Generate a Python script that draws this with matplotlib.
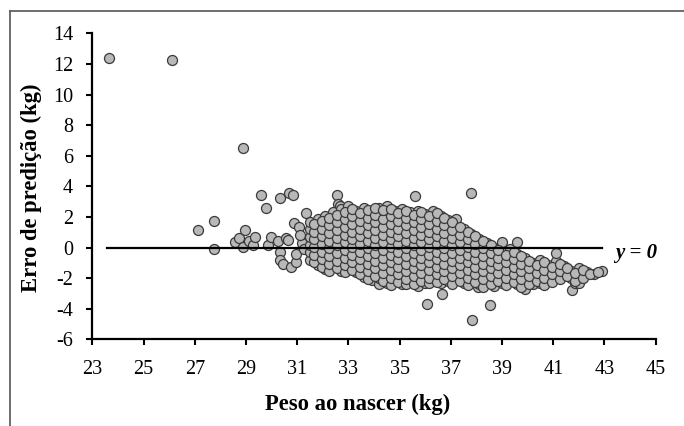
import matplotlib
matplotlib.use("Agg")
import matplotlib.pyplot as plt
from matplotlib.lines import Line2D

# ---- data ----
outlier_x = [23.66, 26.12, 28.88, 35.60, 37.79, 36.05, 36.64, 37.81, 38.53, 38.07, 39.90, 41.75, 41.85]
outlier_y = [12.37, 12.29, 6.54, 3.40, 3.57, -3.68, -3.00, -4.72, -3.73, -2.57, -2.70, -2.79, -2.31]

sparse_x = [27.13, 27.76, 27.76, 28.55, 28.71, 28.88, 28.94, 29.10, 29.28, 29.35, 29.57, 29.79,
            29.87, 29.97, 30.23, 30.31, 30.34, 30.32, 30.43, 30.56, 30.65, 30.66, 30.75, 30.82,
            30.88, 30.94, 31.05, 31.33, 32.54, 32.60, 32.67, 31.89, 30.96, 31.20, 31.10, 31.25]
sparse_y = [1.13, 1.72, -0.07, 0.35, 0.65, 0.02, 1.13, 0.46, 0.20, 0.72, 3.44, 2.61,
            0.17, 0.72, 0.46, 3.27, -0.30, -0.83, -1.07, 0.63, 0.52, 3.57, -1.29, 3.42,
            1.61, -0.92, 1.33, 2.27, 3.46, 2.88, 2.70, 1.78, -0.40, 0.30, 0.85, -0.10]

# dense cloud, read column by column (x position, y values of the circles in that column)
cloud_cols = [31.5, 31.8, 32.1, 32.4, 32.7, 33.0, 33.3, 33.6, 33.9, 34.2, 34.5, 34.8,
              35.1, 35.4, 35.7, 36.0, 36.3, 36.6, 36.9, 37.2, 37.5, 37.8, 38.1, 38.4,
              38.7, 39.0, 39.3, 39.6, 39.9, 40.2, 40.5, 40.8, 41.1, 41.4, 41.7, 42.0,
              42.3, 42.6, 42.9]
cloud_rows = [
    [-0.8, -0.3, 0.2, 0.7, 1.2, 1.7],
    [-1.1, -0.6, -0.1, 0.4, 0.9, 1.4, 1.9],
    [-1.4, -0.9, -0.4, 0.1, 0.6, 1.1, 1.6, 2.1],
    [-1.2, -0.7, -0.2, 0.3, 0.8, 1.3, 1.8, 2.3],
    [-1.5, -1.0, -0.5, 0.0, 0.5, 1.0, 1.5, 2.0, 2.5],
    [-1.3, -0.8, -0.3, 0.2, 0.7, 1.2, 1.7, 2.2, 2.7],
    [-1.6, -1.1, -0.6, -0.1, 0.4, 0.9, 1.4, 1.9, 2.4],
    [-1.9, -1.4, -0.9, -0.4, 0.1, 0.6, 1.1, 1.6, 2.1, 2.6],
    [-2.1, -1.7, -1.2, -0.7, -0.2, 0.3, 0.8, 1.3, 1.8, 2.3],
    [-2.4, -2.0, -1.5, -1.0, -0.5, 0.0, 0.5, 1.0, 1.5, 2.0, 2.6],
    [-2.3, -1.8, -1.3, -0.8, -0.3, 0.2, 0.7, 1.2, 1.7, 2.2, 2.7],
    [-2.1, -1.6, -1.1, -0.6, -0.1, 0.4, 0.9, 1.4, 1.9, 2.4],
    [-2.4, -1.9, -1.4, -0.9, -0.4, 0.1, 0.6, 1.1, 1.6, 2.1, 2.5],
    [-2.2, -1.7, -1.2, -0.7, -0.2, 0.3, 0.8, 1.3, 1.8, 2.3],
    [-2.5, -2.0, -1.5, -1.0, -0.5, 0.0, 0.5, 1.0, 1.5, 2.0, 2.4],
    [-2.3, -1.8, -1.3, -0.8, -0.3, 0.2, 0.7, 1.2, 1.7, 2.2],
    [-2.1, -1.6, -1.1, -0.6, -0.1, 0.4, 0.9, 1.4, 1.9, 2.4],
    [-2.3, -1.9, -1.4, -0.9, -0.4, 0.1, 0.6, 1.1, 1.6, 2.1],
    [-2.2, -1.7, -1.2, -0.7, -0.2, 0.3, 0.8, 1.3, 1.8],
    [-2.0, -1.5, -1.0, -0.5, 0.0, 0.5, 1.0, 1.5, 1.85],
    [-2.3, -1.8, -1.3, -0.8, -0.3, 0.2, 0.7, 1.2],
    [-2.1, -1.6, -1.1, -0.6, -0.1, 0.4, 0.9],
    [-2.4, -1.9, -1.4, -0.9, -0.4, 0.1, 0.6],
    [-2.2, -1.7, -1.2, -0.7, -0.2, 0.3],
    [-2.5, -2.0, -1.5, -1.0, -0.5, 0.0],
    [-2.3, -1.8, -1.3, -0.8, -0.3, 0.4],
    [-2.1, -1.6, -1.1, -0.6, -0.1],
    [-2.4, -1.9, -1.4, -0.9, -0.4, 0.4],
    [-2.2, -1.7, -1.2, -0.7],
    [-2.4, -2.0, -1.5, -1.0],
    [-2.3, -1.8, -1.3, -0.8],
    [-2.1, -1.6, -1.1],
    [-1.9, -1.4, -0.9, -0.35],
    [-1.7, -1.2],
    [-2.0, -1.5],
    [-2.3, -1.8, -1.3],
    [-1.6],
    [-1.7],
    [-1.5],
]

# circles lying between the columns above (same diagonal stripes)
mid_cols = [31.65, 31.95, 32.25, 32.55, 32.85, 33.15, 33.45, 33.75, 34.05, 34.35, 34.65, 34.95,
            35.25, 35.55, 35.85, 36.15, 36.45, 36.75, 37.05, 37.35, 37.65, 37.95, 38.25, 38.55,
            38.85, 39.15, 39.45, 39.75, 40.05, 40.35, 40.65, 40.95, 41.25, 41.55, 41.85, 42.15,
            42.45, 42.75]
mid_rows = [
    [-0.95, -0.45, 0.05, 0.55, 1.05, 1.55],
    [-1.25, -0.75, -0.25, 0.25, 0.75, 1.25, 1.75],
    [-1.55, -1.05, -0.55, -0.05, 0.45, 0.95, 1.45, 1.95],
    [-1.35, -0.85, -0.35, 0.15, 0.65, 1.15, 1.65, 2.15],
    [-1.6, -1.15, -0.65, -0.15, 0.35, 0.85, 1.35, 1.85, 2.35],
    [-1.45, -0.95, -0.45, 0.05, 0.55, 1.05, 1.55, 2.05, 2.55],
    [-1.75, -1.25, -0.75, -0.25, 0.25, 0.75, 1.25, 1.75, 2.25],
    [-2.05, -1.55, -1.05, -0.55, -0.05, 0.45, 0.95, 1.45, 1.95, 2.45],
    [-1.85, -1.35, -0.85, -0.35, 0.15, 0.65, 1.15, 1.65, 2.15, 2.6],
    [-2.15, -1.65, -1.15, -0.65, -0.15, 0.35, 0.85, 1.35, 1.85, 2.45],
    [-2.45, -1.95, -1.45, -0.95, -0.45, 0.05, 0.55, 1.05, 1.55, 2.05, 2.55],
    [-2.25, -1.75, -1.25, -0.75, -0.25, 0.25, 0.75, 1.25, 1.75, 2.25],
    [-2.4, -2.05, -1.55, -1.05, -0.55, -0.05, 0.45, 0.95, 1.45, 1.95, 2.4],
    [-2.35, -1.85, -1.35, -0.85, -0.35, 0.15, 0.65, 1.15, 1.65, 2.15],
    [-2.15, -1.65, -1.15, -0.65, -0.15, 0.35, 0.85, 1.35, 1.85, 2.3],
    [-2.3, -1.95, -1.45, -0.95, -0.45, 0.05, 0.55, 1.05, 1.55, 2.05],
    [-2.25, -1.75, -1.25, -0.75, -0.25, 0.25, 0.75, 1.25, 1.75, 2.25],
    [-2.05, -1.55, -1.05, -0.55, -0.05, 0.45, 0.95, 1.45, 1.95],
    [-2.35, -1.85, -1.35, -0.85, -0.35, 0.15, 0.65, 1.15, 1.65],
    [-2.15, -1.65, -1.15, -0.65, -0.15, 0.35, 0.85, 1.35],
    [-2.45, -1.95, -1.45, -0.95, -0.45, 0.05, 0.55, 1.05],
    [-2.25, -1.75, -1.25, -0.75, -0.25, 0.25, 0.75],
    [-2.55, -2.05, -1.55, -1.05, -0.55, -0.05, 0.45],
    [-2.35, -1.85, -1.35, -0.85, -0.35, 0.15],
    [-2.15, -1.65, -1.15, -0.65, -0.15],
    [-2.45, -1.95, -1.45, -0.95, -0.45],
    [-2.25, -1.75, -1.25, -0.75, -0.25],
    [-2.55, -2.05, -1.55, -1.05, -0.55],
    [-2.35, -1.85, -1.35, -0.85],
    [-2.15, -1.65, -1.15],
    [-2.45, -1.95, -1.45, -0.95],
    [-2.25, -1.75, -1.25],
    [-2.05, -1.55, -1.05],
    [-1.85, -1.35],
    [-2.15, -1.65],
    [-1.95, -1.45],
    [-1.75],
    [-1.6],
]

zero_line_x = [23.55, 42.9]
zero_line_y = [0, 0]

x_ticks = [23, 25, 27, 29, 31, 33, 35, 37, 39, 41, 43, 45]
y_ticks = [-6, -4, -2, 0, 2, 4, 6, 8, 10, 12, 14]

# ---- flatten cloud ----
cloud_x, cloud_y = [], []
for cols, rows in ((cloud_cols, cloud_rows), (mid_cols, mid_rows)):
    for cx, ys in zip(cols, rows):
        for yv in ys:
            cloud_x.append(cx)
            cloud_y.append(yv)

all_x = outlier_x + sparse_x + cloud_x
all_y = outlier_y + sparse_y + cloud_y

plt.rcParams['font.family'] = ['Liberation Serif', 'DejaVu Serif']
plt.rcParams['axes.unicode_minus'] = False

fig = plt.figure(figsize=(6.84, 4.26), dpi=100)
ax = fig.add_axes([0.1352, 0.2031, 0.8234, 0.7183])

ax.scatter(all_x, all_y, s=52, facecolor='#b8b8b8', edgecolor='#3a3a3a',
           linewidths=0.9, zorder=2)
ax.plot(zero_line_x, zero_line_y, color='black', lw=1.6, zorder=3)

ax.set_xlim(23, 45)
ax.set_ylim(-6, 14)
ax.set_xticks(x_ticks)
ax.set_yticks(y_ticks)
ax.tick_params(direction='out', length=4, width=1.5, labelsize=14.5, colors='black')
ax.tick_params(axis='x', pad=11)
ax.tick_params(axis='y', pad=10)
for s in ['top', 'right']:
    ax.spines[s].set_visible(False)
for s in ['left', 'bottom']:
    ax.spines[s].set_linewidth(1.6)
    ax.spines[s].set_color('black')

fig.text(358 / 684, 1 - 404 / 426, 'Peso ao nascer (kg)', fontsize=16.3, fontweight='bold',
         ha='center', va='center')
fig.text(31 / 684, 1 - 187.5 / 426, 'Erro de predição (kg)', fontsize=16.3, fontweight='bold',
         ha='center', va='center', rotation=90)

ax.text(43.4, -0.33, 'y = 0', fontsize=15, fontstyle='italic', fontweight='bold',
        ha='left', va='center')

# outer chart frame (top and left)
fig.add_artist(Line2D([10/684, 1.0], [1 - 11/426, 1 - 11/426], transform=fig.transFigure,
                      color='#555555', lw=1.2))
fig.add_artist(Line2D([10/684, 10/684], [0.0, 1 - 11/426], transform=fig.transFigure,
                      color='#555555', lw=1.2))

fig.savefig('out.png', dpi=100)
